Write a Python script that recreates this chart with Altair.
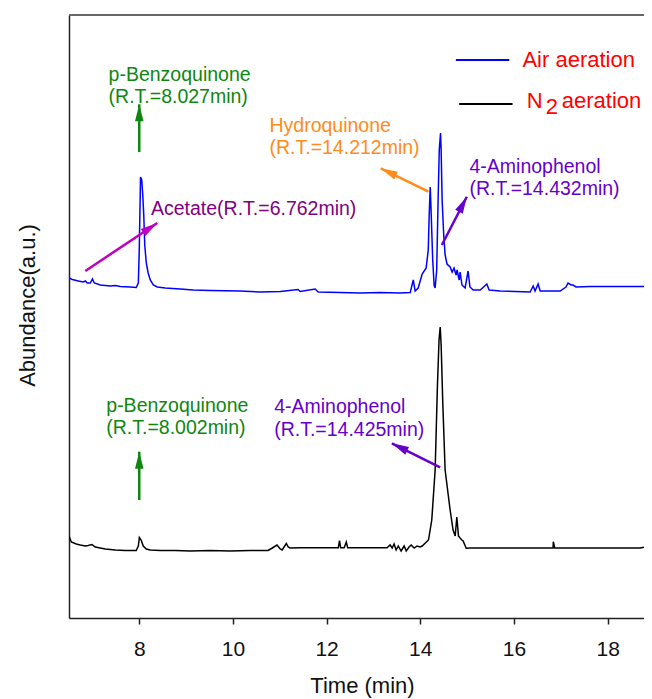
import altair as alt
import pandas as pd

# ---------------- data ----------------
air_time = [6.50, 6.57, 6.70, 6.805, 6.85, 6.89, 6.955, 7.00, 7.04, 7.17,
            7.38, 7.49, 7.595, 7.81, 7.935, 7.98, 8.00, 8.027, 8.053, 8.075,
            8.096, 8.117, 8.15, 8.19, 8.235, 8.30, 8.385, 8.555, 8.875, 9.15,
            9.515, 10.155, 10.58, 11.01, 11.39, 11.435, 11.755, 11.82, 12.29, 12.715,
            13.14, 13.57, 13.785, 13.85, 13.89, 13.955, 14.04, 14.125, 14.17, 14.19,
            14.212, 14.23, 14.265, 14.295, 14.317, 14.35, 14.38, 14.405, 14.432, 14.445,
            14.466, 14.50, 14.53, 14.57, 14.637, 14.68, 14.72, 14.765, 14.786, 14.83,
            14.85, 14.89, 14.957, 15.02, 15.06, 15.13, 15.28, 15.42, 15.47, 15.705,
            16.025, 16.345, 16.41, 16.45, 16.515, 16.56, 16.985, 17.11, 17.155, 17.22,
            17.26, 17.325, 17.625, 18.05, 18.48, 18.92]
air_abund = [340, 338.5, 337, 336, 337, 335, 335, 339, 335, 333,
             332, 332.5, 331.5, 331, 330.5, 335, 368, 441, 438, 423,
             403, 373, 355, 345, 338, 333, 331, 330, 329, 328,
             327.5, 327, 326, 326.5, 328.5, 326.5, 329, 326, 325.5, 325,
             325.5, 325, 325.5, 338, 327, 330, 344, 350, 368, 403,
             431, 408, 358, 333, 330, 348, 418, 468, 485, 468,
             418, 383, 363, 354, 351, 346, 350, 343, 348, 338,
             346, 333, 330, 347, 331, 328, 328, 334, 328, 327,
             326.5, 326, 332, 327, 334, 327, 327, 331, 335, 333,
             333, 331, 331.5, 331.5, 331.5, 331.5]

n2_time = [6.50, 6.55, 6.655, 6.74, 6.85, 6.91, 6.99, 7.06, 7.275, 7.49,
           7.70, 7.935, 7.98, 8.002, 8.04, 8.085, 8.15, 8.235, 8.45, 8.77,
           9.09, 9.515, 9.94, 10.37, 10.75, 10.84, 10.94, 11.01, 11.05, 11.14,
           11.18, 11.22, 11.435, 11.865, 12.25, 12.275, 12.30, 12.375, 12.42, 12.45,
           12.715, 13.29, 13.355, 13.40, 13.44, 13.485, 13.53, 13.59, 13.655, 13.70,
           13.76, 13.805, 13.87, 13.93, 13.995, 14.04, 14.175, 14.245, 14.317, 14.365,
           14.40, 14.425, 14.445, 14.48, 14.53, 14.637, 14.70, 14.745, 14.78, 14.815,
           14.85, 14.887, 14.915, 14.98, 15.065, 15.49, 15.915, 16.345, 16.835, 16.84,
           16.87, 17.41, 18.05, 18.69, 18.90, 18.925]
n2_abund = [82, 76, 74, 73, 72, 72.5, 73.5, 71, 69, 68,
            67.5, 67.5, 72, 80.5, 78, 72, 69, 68, 67.5, 67.5,
            67, 67.5, 67, 67.5, 67.5, 70, 73, 69, 68, 74.5,
            71, 70, 70.2, 70.2, 70.2, 77.5, 70.2, 70.2, 76, 70.2,
            70.2, 70.2, 73, 70, 74, 68, 72, 67, 72, 67,
            71, 73, 70, 72, 71, 72, 78, 98, 148, 231,
            278, 291, 273, 215, 148, 108, 88, 82, 101, 82,
            80, 78, 77, 69.7, 70, 70, 70, 70, 70, 76.3,
            70, 70, 70, 70, 72, 76]

series_names = ["Air aeration", "N2 aeration"]
series_colors = ["#0000ff", "#000000"]

# annotation labels (left edge time, baseline abundance)
label_text = ["p-Benzoquinone", "(R.T.=8.027min)", "Acetate(R.T.=6.762min)",
              "Hydroquinone", "(R.T.=14.212min)", "4-Aminophenol", "(R.T.=14.432min)",
              "p-Benzoquinone", "(R.T.=8.002min)", "4-Aminophenol", "(R.T.=14.425min)"]
label_time = [7.345, 7.345, 8.25, 10.78, 10.78, 15.05, 15.05, 7.296, 7.296, 10.88, 10.88]
label_abund = [537.5, 515, 403, 486.3, 464, 445.5, 423, 206, 184, 204.7, 182]
label_color = ["#0f870f", "#0f870f", "#800080", "#ff8c19", "#ff8c19", "#6600cc", "#6600cc",
               "#0f870f", "#0f870f", "#6600cc", "#6600cc"]

# arrows: tail -> tip
arrow_t0 = [8.0, 6.848, 14.174, 14.46, 8.0, 14.423]
arrow_a0 = [466, 347, 426.3, 373, 118, 150.7]
arrow_t1 = [8.0, 8.384, 13.155, 14.993, 8.0, 13.393]
arrow_a1 = [513.7, 395, 449.7, 421.3, 166.3, 174.7]
arrow_angle = [0, 56.3, 295.4, 27.4, 0, 296.4]
arrow_color = ["#0f870f", "#c000c0", "#ff8c19", "#6600cc", "#0f870f", "#6600cc"]

# legend
legend_t0 = [14.76, 14.83]
legend_t1 = [15.90, 15.97]
legend_a = [558, 514]
legend_text = ["Air aeration", "N", "2", "aeration"]
legend_text_t = [16.18, 16.273, 16.679, 17.02]
legend_text_a = [550.7, 509.7, 504.5, 509.7]

x_domain = [6.5, 18.776]
y_domain = [0, 603]
x_ticks = [8, 10, 12, 14, 16, 18]

# ---------------- tables ----------------
lines_df = pd.DataFrame({
    "time": air_time + n2_time,
    "abund": air_abund + n2_abund,
    "series": [series_names[0]] * len(air_time) + [series_names[1]] * len(n2_time),
})
labels_df = pd.DataFrame({"text": label_text, "time": label_time,
                          "abund": label_abund, "color": label_color})
arrows_df = pd.DataFrame({"t0": arrow_t0, "a0": arrow_a0, "t1": arrow_t1,
                          "a1": arrow_a1, "angle": arrow_angle, "color": arrow_color})
leg_lines_df = pd.DataFrame({"t0": legend_t0, "t1": legend_t1, "a": legend_a,
                             "color": series_colors})
leg_text_df = pd.DataFrame({"text": legend_text, "time": legend_text_t, "abund": legend_text_a})
frame_df = pd.DataFrame({"t0": [x_domain[0]], "t1": [x_domain[1]], "a": [y_domain[1]]})

FONT = "Liberation Sans"

xs = alt.Scale(domain=x_domain, nice=False, zero=False)
ys = alt.Scale(domain=y_domain, nice=False, zero=False)

x_axis = alt.Axis(values=x_ticks, grid=False, title="Time (min)",
                  domainColor="#222222", domainWidth=1.5,
                  tickColor="#222222", tickWidth=1.5, tickSize=6,
                  labelFontSize=21, labelFont=FONT, labelColor="#111111",
                  labelBaseline="middle", labelPadding=25,
                  titleFontSize=22, titleFont=FONT, titleFontWeight="normal",
                  titleColor="#111111", titleX=293, titleY=74,
                  titleBaseline="alphabetic", titleAlign="center")
y_axis = alt.Axis(ticks=False, labels=False, grid=False, title="Abundance(a.u.)",
                  domainColor="#222222", domainWidth=1.5,
                  titleFontSize=22, titleFont=FONT, titleFontWeight="normal",
                  titleColor="#111111", titleX=-42, titleY=290, titleAngle=270,
                  titleBaseline="middle", titleAlign="center")

lines = alt.Chart(lines_df).mark_line(strokeWidth=1.5, clip=True).encode(
    x=alt.X("time:Q", scale=xs, axis=x_axis),
    y=alt.Y("abund:Q", scale=ys, axis=y_axis),
    color=alt.Color("series:N", scale=alt.Scale(domain=series_names, range=series_colors),
                    legend=None),
    order="time:Q",
)

frame = alt.Chart(frame_df).mark_rule(color="#666666", strokeWidth=2).encode(
    x="t0:Q", x2="t1:Q", y="a:Q")

labels = alt.Chart(labels_df).mark_text(align="left", baseline="alphabetic",
                                        fontSize=19.5, font=FONT).encode(
    x="time:Q", y="abund:Q", text="text:N", color=alt.Color("color:N", scale=None))

shafts = alt.Chart(arrows_df).mark_rule(strokeWidth=2.5).encode(
    x="t0:Q", y="a0:Q", x2="t1:Q", y2="a1:Q", color=alt.Color("color:N", scale=None))

heads = alt.Chart(arrows_df).mark_point(shape="M0,0L-0.5,2L0.5,2Z", filled=True,
                                        size=289, opacity=1, strokeWidth=0).encode(
    x="t1:Q", y="a1:Q", angle=alt.Angle("angle:Q", scale=None),
    color=alt.Color("color:N", scale=None))

leg_lines = alt.Chart(leg_lines_df).mark_rule(strokeWidth=1.8).encode(
    x="t0:Q", x2="t1:Q", y="a:Q", color=alt.Color("color:N", scale=None))

leg_text = alt.Chart(leg_text_df).mark_text(align="left", baseline="alphabetic",
                                            fontSize=22, font=FONT, color="#ff0000").encode(
    x="time:Q", y="abund:Q", text="text:N")

chart = alt.layer(lines, frame, shafts, heads, labels, leg_lines, leg_text).properties(
    width=575, height=603,
    autosize=alt.AutoSizeParams(type="none"),
    padding={"left": 61, "top": 7, "right": 0, "bottom": 80},
).configure_view(stroke=None).configure(font=FONT)

chart.save("out.html", embed_options={"renderer": "svg", "actions": False})
